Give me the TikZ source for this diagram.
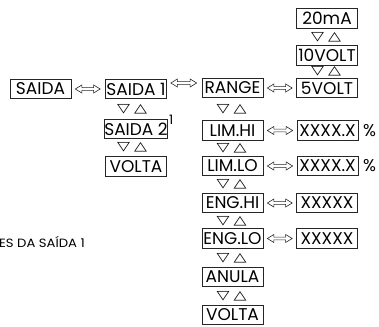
\documentclass[tikz,border=0pt]{standalone}
\usepackage{fontspec}
\usetikzlibrary{calc}
\newfontfamily\boxfont{Poppins}
\newfontfamily\capfont[FakeStretch=1.1]{Poppins}
\newfontfamily\symfont{DejaVu Sans}
\newcommand{\updn}{\scalebox{1.35}[1]{\symfont ▽\hspace{3pt}△}}
\tikzset{
  menubox/.style={draw=black!85, line width=0.7pt, minimum width=61pt, minimum height=19.5pt, inner sep=0pt, font=\boxfont\fontsize{17}{17}\selectfont},
  keys/.style={inner sep=0pt, font=\fontsize{12.5}{12.5}\selectfont},
  dblarrow/.style={draw=black!85, line width=0.6pt, fill=white, line join=miter, to path={let \p1=(\tikztostart), \p2=(\tikztotarget) in
    (\x1,\y1) -- (\x1+6.5pt,\y1+4pt) -- (\x1+6.5pt,\y1+1.4pt) -- (\x2-6.5pt,\y1+1.4pt) -- (\x2-6.5pt,\y1+4pt) -- (\x2,\y1)
    -- (\x2-6.5pt,\y1-4pt) -- (\x2-6.5pt,\y1-1.4pt) -- (\x1+6.5pt,\y1-1.4pt) -- (\x1+6.5pt,\y1-4pt) -- cycle}},
  plain/.style={inner sep=0pt, font=\boxfont\fontsize{17}{17}\selectfont}
}
\begin{document}
\begin{tikzpicture}[x=1pt,y=-1pt]
\useasboundingbox (0,0) rectangle (379,326);
% column A
\node[menubox] (A) at (40.5,89) {SAIDA};
% column B
\node[menubox] (B1) at (136,89) {SAIDA 1};
\node[menubox] (B2) at (136,129) {SAIDA 2};
\node[menubox] (B3) at (136,166.5) {VOLTA};
\node[plain, font=\boxfont\fontsize{13}{13}\selectfont, anchor=south west] (sup) at (169,125) {1};
% column C
\node[menubox] (C1) at (232.5,88) {RANGE};
\node[menubox] (C2) at (232.5,130.5) {LIM.HI};
\node[menubox] (C3) at (232.5,166) {LIM.LO};
\node[menubox] (C4) at (232.5,203) {ENG.HI};
\node[menubox] (C5) at (232.5,238.5) {ENG.LO};
\node[menubox] (C6) at (232.5,277) {ANULA};
\node[menubox] (C7) at (232.5,315) {VOLTA};
% column D
\node[menubox] (D1) at (327,18.5) {20mA};
\node[menubox] (D2) at (327,55.5) {10VOLT};
\node[menubox] (D3) at (327,88) {5VOLT};
\node[menubox] (D4) at (327.5,130.5) {XXXX.X};
\node[menubox] (D5) at (327.5,166) {XXXX.X};
\node[menubox] (D6) at (327,203) {XXXXX};
\node[menubox] (D7) at (327,238.5) {XXXXX};
\node[plain, anchor=west] (p1) at (363,130.5) {\%};
\node[plain, anchor=west] (p2) at (363,166) {\%};
% key symbols
\node[keys] (kB1) at ($(B1.south)!0.5!(B2.north)+(-4,0)$) {\updn};
\node[keys] (kB2) at ($(B2.south)!0.5!(B3.north)+(-4,0)$) {\updn};
\node[keys] (kC1) at ($(C1.south)!0.5!(C2.north)+(-1,0)$) {\updn};
\node[keys] (kC2) at ($(C2.south)!0.5!(C3.north)+(-1,0)$) {\updn};
\node[keys] (kC3) at ($(C3.south)!0.5!(C4.north)+(-1,0)$) {\updn};
\node[keys] (kC4) at ($(C4.south)!0.5!(C5.north)+(-1,0)$) {\updn};
\node[keys] (kC5) at ($(C5.south)!0.5!(C6.north)+(-1,0)$) {\updn};
\node[keys] (kC6) at ($(C6.south)!0.5!(C7.north)+(-1,0)$) {\updn};
\node[keys] (kD1) at ($(D1.south)!0.5!(D2.north)+(-1,0)$) {\updn};
\node[keys] (kD2) at ($(D2.south)!0.5!(D3.north)+(-1,0)$) {\updn};
% connectors
\draw[dblarrow] ([xshift=4]A.east) to ([xshift=-5]B1.west);
\draw[dblarrow] ([xshift=4,yshift=6]B1.east) to ([xshift=-5]C1.west);
\draw[dblarrow] ([xshift=4]C1.east) to ([xshift=-4]D3.west);
\draw[dblarrow] ([xshift=4]C2.east) to ([xshift=-4]D4.west);
\draw[dblarrow] ([xshift=4]C3.east) to ([xshift=-4]D5.west);
\draw[dblarrow] ([xshift=4]C4.east) to ([xshift=-4]D6.west);
\draw[dblarrow] ([xshift=4]C5.east) to ([xshift=-4]D7.west);
% caption fragment
\node[plain, font=\capfont\fontsize{12}{12}\selectfont, anchor=west] (cap) at (-1,242) {ES DA SAÍDA 1};
\end{tikzpicture}
\end{document}
